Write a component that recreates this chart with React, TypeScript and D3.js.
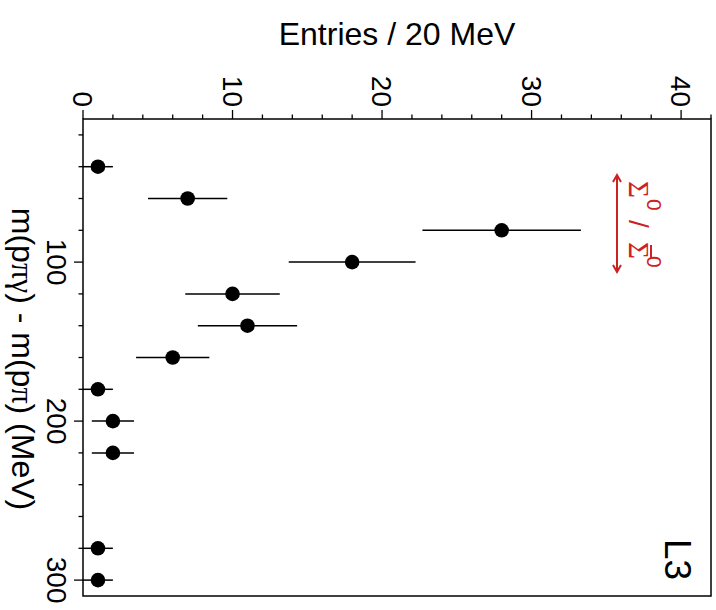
import React from "react";
import * as d3 from "d3";

const massBins = [40, 60, 80, 100, 120, 140, 160, 180, 200, 220, 280, 300];
const entries = [1, 7, 28, 18, 10, 11, 6, 1, 2, 2, 1, 1];
const errLow = [1, 2.65, 5.3, 4.24, 3.16, 3.32, 2.45, 1, 1.41, 1.41, 1, 1];
const errHigh = [1, 2.65, 5.3, 4.24, 3.16, 3.32, 2.45, 1, 1.41, 1.41, 1, 1];
const entryTicks = [0, 10, 20, 30, 40];
const massTicks = [100, 200, 300];

const W = 716;
const H = 610;
const FONT = "'Liberation Sans', Arial, Helvetica, sans-serif";
const SERIF = "'Liberation Serif', 'Times New Roman', serif";
const RED = "#cc2222";

export default function App() {
  const x = d3.scaleLinear().domain([0, 42]).range([83, 711]);
  const y = d3.scaleLinear().domain([10, 310]).range([119, 596]);

  const minorX = d3.range(0, 42.01, 2);
  const minorY = d3.range(20, 310.01, 20);

  const arrowX = 617;
  const aTop = 175;
  const aBot = 272;

  return (
    <svg
      width={W}
      height={H}
      style={{ position: "absolute", left: 0, top: 0, background: "#fff" }}
      fontFamily={FONT}
    >
      <rect x={0} y={0} width={W} height={H} fill="#fff" />
      {/* frame */}
      <rect
        x={x(0)}
        y={y(10)}
        width={x(42) - x(0)}
        height={y(310) - y(10)}
        fill="none"
        stroke="#000"
        strokeWidth={1.5}
      />
      {/* top axis ticks (entries) */}
      {minorX.map((v) => {
        const major = entryTicks.includes(v);
        return (
          <line
            key={"tx" + v}
            x1={x(v)}
            x2={x(v)}
            y1={y(10)}
            y2={y(10) - (major ? 9 : 4.5)}
            stroke="#000"
            strokeWidth={1.3}
          />
        );
      })}
      {entryTicks.map((v) => (
        <text
          key={"lx" + v}
          transform={`translate(${x(v)},107) rotate(90)`}
          textAnchor="end"
          dy="0.35em"
          fontSize={28}
        >
          {v}
        </text>
      ))}
      {/* left axis ticks (mass) */}
      {minorY.map((v) => {
        const major = massTicks.includes(v);
        return (
          <line
            key={"ty" + v}
            x1={x(0)}
            x2={x(0) - (major ? 9 : 4.5)}
            y1={y(v)}
            y2={y(v)}
            stroke="#000"
            strokeWidth={1.3}
          />
        );
      })}
      {massTicks.map((v) => (
        <text
          key={"ly" + v}
          transform={`translate(47,${y(v)}) rotate(90)`}
          textAnchor="middle"
          fontSize={28}
        >
          {v}
        </text>
      ))}
      {/* axis titles */}
      <text x={397} y={45} textAnchor="middle" fontSize={32}>
        Entries / 20 MeV
      </text>
      <text
        transform={`translate(12,359) rotate(90)`}
        textAnchor="middle"
        fontSize={32}
      >
        m(p<tspan fontFamily={SERIF}>πγ</tspan>) - m(p<tspan fontFamily={SERIF}>π</tspan>) (MeV)
      </text>
      {/* error bars */}
      {massBins.map((m, i) => (
        <line
          key={"e" + i}
          x1={x(Math.max(0, entries[i] - errLow[i]))}
          x2={x(entries[i] + errHigh[i])}
          y1={y(m)}
          y2={y(m)}
          stroke="#000"
          strokeWidth={1.5}
        />
      ))}
      {/* points */}
      {massBins.map((m, i) => (
        <circle key={"p" + i} cx={x(entries[i])} cy={y(m)} r={7.3} fill="#000" />
      ))}
      {/* L3 label */}
      <text
        transform={`translate(665,539) rotate(90)`}
        textAnchor="start"
        fontSize={37}
      >
        L3
      </text>
      {/* red annotation */}
      <line x1={arrowX} x2={arrowX} y1={aTop} y2={aBot} stroke={RED} strokeWidth={2} />
      <path
        d={`M${arrowX - 4},${aTop + 7} L${arrowX},${aTop} L${arrowX + 4},${aTop + 7}`}
        fill="none"
        stroke={RED}
        strokeWidth={2}
      />
      <path
        d={`M${arrowX - 4},${aBot - 7} L${arrowX},${aBot} L${arrowX + 4},${aBot - 7}`}
        fill="none"
        stroke={RED}
        strokeWidth={2}
      />
      <g fill={RED}>
        <text transform={`translate(629,181) rotate(90)`} fontSize={29} fontFamily={SERIF}>
          Σ
        </text>
        <text transform={`translate(647,199) rotate(90)`} fontSize={21}>
          0
        </text>
        <text transform={`translate(629,220) rotate(90)`} fontSize={28}>
          /
        </text>
        <text transform={`translate(629,242) rotate(90)`} fontSize={29} fontFamily={SERIF}>
          Σ
        </text>
        <line x1={651} x2={651} y1={245} y2={258} stroke={RED} strokeWidth={2} />
        <text transform={`translate(647,256) rotate(90)`} fontSize={21}>
          0
        </text>
      </g>
    </svg>
  );
}
